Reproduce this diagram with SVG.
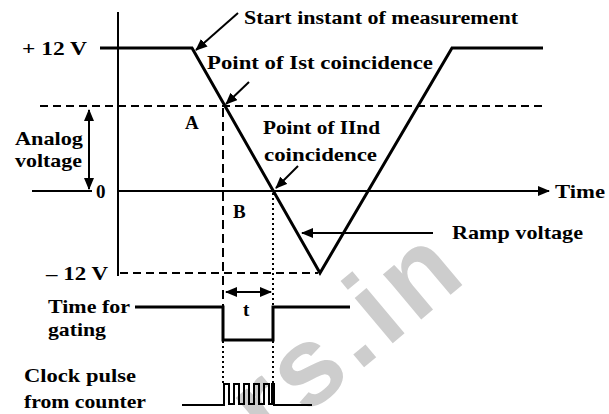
<svg xmlns="http://www.w3.org/2000/svg" width="609" height="414" viewBox="0 0 609 414">
<defs>
<style>
.t{font-family:"Liberation Serif","Times New Roman",serif;font-weight:bold;font-size:19px;fill:#000}
.thick{stroke:#000;stroke-width:3;fill:none;stroke-linejoin:miter;stroke-linecap:butt}
.thin{stroke:#000;stroke-width:2;fill:none}
.dash{stroke:#000;stroke-width:2;fill:none;stroke-dasharray:8 5}
.vdash{stroke:#000;stroke-width:2;fill:none;stroke-dasharray:9 5}
.dot{stroke:#000;stroke-width:2;fill:none;stroke-dasharray:2 3}
.wm{font-family:"Liberation Sans",Arial,sans-serif;font-weight:bold;font-size:112px;letter-spacing:6px;fill:#cdcdcd}
</style>
<marker id="ah" viewBox="0 0 12 10" refX="11" refY="5" markerWidth="12" markerHeight="10" markerUnits="userSpaceOnUse" orient="auto-start-reverse">
<path d="M0,0 L12,5 L0,10 Z" fill="#000"/>
</marker>
</defs>
<rect width="609" height="414" fill="#fff"/>

<g id="watermark">
<text class="wm" transform="translate(268,448) rotate(-40)">rs.in</text>
</g>

<g id="axes">
<line class="thin" x1="118" y1="12" x2="118" y2="276"/>
<line class="thin" x1="32" y1="191" x2="92" y2="191"/>
<line class="thin" x1="118" y1="191" x2="549" y2="191" marker-end="url(#ah)"/>
<line class="dash" x1="40" y1="106" x2="545" y2="106"/>
<line class="dash" x1="120" y1="273" x2="318" y2="273"/>
</g>

<g id="ramp">
<polyline class="thick" points="100,48 192,48 320,273 452,48 543,48"/>
</g>

<g id="connectors">
<line class="thin" x1="238" y1="13" x2="196" y2="50" marker-end="url(#ah)"/>
<line class="thin" x1="249" y1="82" x2="226" y2="104" marker-end="url(#ah)"/>
<line class="thin" x1="298" y1="166" x2="276" y2="188" marker-end="url(#ah)"/>
<line class="thin" x1="433" y1="233" x2="302" y2="233" marker-end="url(#ah)"/>
<line class="thin" x1="89" y1="110" x2="89" y2="189" marker-start="url(#ah)" marker-end="url(#ah)"/>
<line class="thin" x1="226" y1="292" x2="271" y2="292" marker-start="url(#ah)" marker-end="url(#ah)"/>
<line class="vdash" x1="223" y1="108" x2="223" y2="307"/>
<line class="dot" x1="273" y1="193" x2="273" y2="307"/>
<line class="dot" x1="223" y1="341" x2="223" y2="384"/>
<line class="dot" x1="273" y1="341" x2="273" y2="384"/>
</g>

<g id="gating">
<polyline class="thick" points="135,307 223,307 223,340 273,340 273,307 350,307"/>
</g>

<g id="clock">
<polyline class="thin" points="182,405 224,405 224,384 229,384 229,404 234,404 234,384 239,384 239,404 244,404 244,384 249,384 249,404 254,404 254,384 259,384 259,404 264,404 264,384 269,384 269,404 272,404 272,384 274,384 274,405 312,405"/>
</g>

<g id="labels">
<text class="t" x="244" y="24" textLength="274" lengthAdjust="spacingAndGlyphs">Start instant of measurement</text>
<text class="t" x="207" y="69" textLength="226" lengthAdjust="spacingAndGlyphs">Point of Ist coincidence</text>
<text class="t" x="263" y="134" textLength="117" lengthAdjust="spacingAndGlyphs">Point of IInd</text>
<text class="t" x="264" y="161" textLength="113" lengthAdjust="spacingAndGlyphs">coincidence</text>
<text class="t" x="185" y="129">A</text>
<text class="t" x="233" y="218">B</text>
<text class="t" x="555" y="198" textLength="50" lengthAdjust="spacingAndGlyphs">Time</text>
<text class="t" x="452" y="239" textLength="131" lengthAdjust="spacingAndGlyphs">Ramp voltage</text>
<text class="t" x="22" y="55" textLength="65" lengthAdjust="spacingAndGlyphs">+ 12 V</text>
<text class="t" x="15" y="145" textLength="68" lengthAdjust="spacingAndGlyphs">Analog</text>
<text class="t" x="15" y="167" textLength="67" lengthAdjust="spacingAndGlyphs">voltage</text>
<text class="t" x="96" y="198">0</text>
<text class="t" x="46" y="280" textLength="62" lengthAdjust="spacingAndGlyphs">– 12 V</text>
<text class="t" x="48" y="313" textLength="82" lengthAdjust="spacingAndGlyphs">Time for</text>
<text class="t" x="48" y="336" textLength="58" lengthAdjust="spacingAndGlyphs">gating</text>
<text class="t" x="24" y="382" textLength="112" lengthAdjust="spacingAndGlyphs">Clock pulse</text>
<text class="t" x="24" y="408" textLength="122" lengthAdjust="spacingAndGlyphs">from counter</text>
<text class="t" x="243" y="316">t</text>
</g>
</svg>
